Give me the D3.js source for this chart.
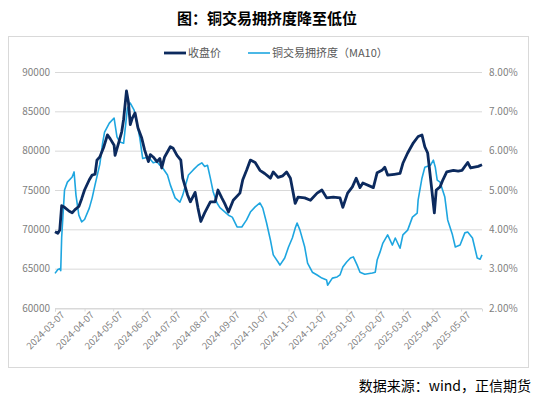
<!DOCTYPE html>
<html>
<head>
<meta charset="utf-8">
<script src="https://cdn.jsdelivr.net/npm/d3@7"></script>
<style>
  body { margin: 0; background: #fff; }
  svg { display: block; }
</style>
</head>
<body>
<svg id="chart" width="534" height="397"></svg>
<script>
// 收盘价 (dark line)
const priceDates = ['2024-03-07','2024-03-10','2024-03-12','2024-03-14','2024-03-17','2024-03-22','2024-03-25','2024-03-28','2024-04-01','2024-04-04','2024-04-07','2024-04-12','2024-04-15','2024-04-18','2024-04-20','2024-04-23','2024-04-27','2024-05-01','2024-05-04','2024-05-08','2024-05-09','2024-05-13','2024-05-16','2024-05-18','2024-05-21','2024-05-23','2024-05-25','2024-05-27','2024-05-30','2024-06-02','2024-06-06','2024-06-09','2024-06-13','2024-06-15','2024-06-18','2024-06-22','2024-06-25','2024-06-27','2024-06-30','2024-07-06','2024-07-09','2024-07-13','2024-07-17','2024-07-19','2024-07-24','2024-07-27','2024-08-01','2024-08-04','2024-08-07','2024-08-11','2024-08-17','2024-08-22','2024-08-25','2024-08-29','2024-09-01','2024-09-05','2024-09-10','2024-09-17','2024-09-20','2024-09-24','2024-09-28','2024-10-03','2024-10-08','2024-10-13','2024-10-19','2024-10-22','2024-10-27','2024-11-01','2024-11-05','2024-11-09','2024-11-14','2024-11-17','2024-11-24','2024-11-30','2024-12-07','2024-12-12','2024-12-17','2024-12-24','2024-12-31','2025-01-03','2025-01-08','2025-01-13','2025-01-17','2025-01-21','2025-01-24','2025-02-04','2025-02-08','2025-02-13','2025-02-16','2025-02-19','2025-02-26','2025-03-04','2025-03-07','2025-03-12','2025-03-18','2025-03-23','2025-03-27','2025-03-30','2025-04-02','2025-04-06','2025-04-09','2025-04-11','2025-04-15','2025-04-18','2025-04-22','2025-04-29','2025-05-04','2025-05-08','2025-05-14','2025-05-17','2025-05-21','2025-05-25','2025-05-29']
const priceValues = [69700,69500,69900,73000,72800,72300,72100,72500,72900,73900,75000,76300,76900,77000,78800,79200,80400,82000,81500,80700,79400,81100,82400,84000,87600,86200,83300,84100,84800,82900,81600,80100,78600,79500,79200,78600,79000,77800,79200,80500,80300,79400,78800,76500,74400,73500,74700,72700,71000,72100,73500,73500,75000,74000,73300,72200,73700,74600,76300,77500,78800,78500,77500,77100,76500,77300,76600,76800,77300,76500,73300,74100,74000,73700,74600,75000,74000,74100,74000,72800,74600,75400,76500,75300,75900,75300,77200,77500,77900,76900,77000,77100,78400,79700,81000,81800,82000,80500,79700,75400,72100,75000,75400,76300,77300,77500,77400,77500,78500,77800,77900,78000,78200]

// 铜交易拥挤度（MA10）(light line, %)
const ratioDates = ['2024-03-07','2024-03-10','2024-03-12','2024-03-13','2024-03-14','2024-03-17','2024-03-20','2024-03-25','2024-03-27','2024-03-29','2024-04-01','2024-04-04','2024-04-07','2024-04-12','2024-04-15','2024-04-18','2024-04-23','2024-04-26','2024-04-28','2024-05-03','2024-05-08','2024-05-11','2024-05-14','2024-05-18','2024-05-22','2024-05-25','2024-05-29','2024-06-01','2024-06-04','2024-06-07','2024-06-13','2024-06-18','2024-06-22','2024-06-25','2024-06-28','2024-07-03','2024-07-06','2024-07-11','2024-07-16','2024-07-19','2024-07-25','2024-07-30','2024-08-04','2024-08-08','2024-08-11','2024-08-14','2024-08-17','2024-08-20','2024-08-24','2024-08-27','2024-08-30','2024-09-05','2024-09-09','2024-09-14','2024-09-19','2024-09-24','2024-09-28','2024-10-03','2024-10-08','2024-10-11','2024-10-15','2024-10-19','2024-10-22','2024-10-27','2024-10-29','2024-11-03','2024-11-07','2024-11-11','2024-11-14','2024-11-16','2024-11-19','2024-11-24','2024-11-27','2024-12-02','2024-12-07','2024-12-12','2024-12-17','2024-12-18','2024-12-23','2024-12-28','2024-12-31','2025-01-03','2025-01-07','2025-01-11','2025-01-14','2025-01-18','2025-01-21','2025-01-26','2025-02-03','2025-02-06','2025-02-08','2025-02-11','2025-02-14','2025-02-19','2025-02-24','2025-02-27','2025-03-04','2025-03-07','2025-03-12','2025-03-17','2025-03-22','2025-03-23','2025-03-27','2025-03-30','2025-04-05','2025-04-08','2025-04-10','2025-04-12','2025-04-15','2025-04-20','2025-04-23','2025-04-28','2025-05-01','2025-05-06','2025-05-11','2025-05-14','2025-05-19','2025-05-24','2025-05-27','2025-05-29']
const ratioValues = [2.88,2.98,3.00,2.95,3.80,5.00,5.20,5.33,5.46,4.87,4.36,4.19,4.25,4.54,4.80,5.13,5.65,6.20,6.47,6.70,6.83,6.35,6.22,6.19,7.08,7.21,7.03,6.70,6.32,5.80,5.84,5.69,5.72,5.63,5.56,5.38,5.13,4.80,4.69,4.87,5.38,5.51,5.63,5.69,5.60,5.63,5.30,4.95,4.67,4.55,4.49,4.36,4.31,4.06,4.06,4.24,4.44,4.57,4.67,4.54,4.16,3.73,3.35,3.17,3.09,3.27,3.55,3.78,4.03,4.16,3.98,3.55,3.14,2.91,2.84,2.76,2.71,2.58,2.76,2.79,2.84,3.04,3.17,3.27,3.30,3.09,2.91,2.86,2.89,2.91,3.22,3.42,3.65,3.86,3.60,3.78,3.52,3.86,3.98,4.31,4.41,4.75,5.30,5.58,5.63,5.76,5.58,5.25,5.20,4.82,4.24,3.86,3.55,3.60,3.91,3.93,3.78,3.27,3.24,3.35]

const xTickLabels = ['2024-03-07','2024-04-07','2024-05-07','2024-06-07','2024-07-07','2024-08-07','2024-09-07','2024-10-07','2024-11-07','2024-12-07','2025-01-07','2025-02-07','2025-03-07','2025-04-07','2025-05-07']
const leftTicks = [60000,65000,70000,75000,80000,85000,90000]
const rightTicks = [2,3,4,5,6,7,8]

const seriesNames = ['收盘价','铜交易拥挤度（MA10）']
const colors = { price: '#0c2a5e', ratio: '#1ea6e0' }

let parse = d3.timeParse('%Y-%m-%d')
let price = priceDates.map((d,i) => ({ date: parse(d), value: priceValues[i] }))
let ratio = ratioDates.map((d,i) => ({ date: parse(d), value: ratioValues[i] }))

let svg = d3.select('#chart')
let font = '"Noto Sans CJK SC", "Noto Sans", sans-serif'

// frame & title
svg.append('rect')
  .attr('x', 8.5).attr('y', 36.5)
  .attr('width', 520).attr('height', 331)
  .attr('fill', 'none')
  .attr('stroke', '#d9d9d9')

svg.append('text')
  .attr('x', 267).attr('y', 24)
  .attr('text-anchor', 'middle')
  .style('font-family', font)
  .style('font-size', '15px')
  .style('font-weight', 'bold')
  .attr('fill', '#000')
  .text('图：铜交易拥挤度降至低位')

svg.append('text')
  .attr('x', 531).attr('y', 391)
  .attr('text-anchor', 'end')
  .style('font-family', font)
  .style('font-size', '14px')
  .attr('fill', '#000')
  .text('数据来源：wind，正信期货')

let x = d3.scaleTime()
  .domain([parse('2024-03-07'), parse('2025-05-29')])
  .range([55, 482])

let yL = d3.scaleLinear().domain([60000, 90000]).range([308, 72])
let yR = d3.scaleLinear().domain([2, 8]).range([308, 72])

// gridlines
svg.append('g')
  .selectAll('line')
  .data(leftTicks)
  .enter().append('line')
    .attr('x1', 55).attr('x2', 482)
    .attr('y1', d => yL(d) + 0.5).attr('y2', d => yL(d) + 0.5)
    .attr('stroke', '#d9d9d9')
    .attr('stroke-width', 1)

// left axis
let left = svg.append('g')
  .attr('transform', 'translate(50,0)')
  .call(d3.axisLeft(yL).tickValues(leftTicks).tickSize(0).tickPadding(0).tickFormat(d3.format('d')))
left.select('.domain').remove()
left.selectAll('text')
  .style('font-family', font)
  .style('font-size', '10px')
  .attr('fill', '#7f7f7f')

// right axis
let right = svg.append('g')
  .attr('transform', 'translate(489,0)')
  .call(d3.axisRight(yR).tickValues(rightTicks).tickSize(0).tickPadding(0).tickFormat(d => d.toFixed(2) + '%'))
right.select('.domain').remove()
right.selectAll('text')
  .style('font-family', font)
  .style('font-size', '10px')
  .attr('fill', '#7f7f7f')

// bottom axis
let bottom = svg.append('g')
  .attr('transform', 'translate(0,308.5)')
  .call(d3.axisBottom(x).tickValues(xTickLabels.map(parse)).tickSize(3).tickFormat(d3.timeFormat('%Y-%m-%d')))
bottom.select('.domain').attr('stroke', '#d9d9d9')
bottom.selectAll('.tick line').attr('stroke', '#d9d9d9')
bottom.selectAll('text')
  .style('font-family', font)
  .style('font-size', '9.5px')
  .attr('fill', '#7f7f7f')
  .attr('text-anchor', 'end')
  .attr('dx', '0.2em')
  .attr('dy', '0.6em')
  .attr('transform', 'rotate(-45)')

// lines
let lineR = d3.line().x(d => x(d.date)).y(d => yR(d.value))
let lineL = d3.line().x(d => x(d.date)).y(d => yL(d.value))

svg.append('path')
  .datum(ratio)
  .attr('d', lineR)
  .attr('fill', 'none')
  .attr('stroke', colors.ratio)
  .attr('stroke-width', 1.6)
  .attr('stroke-linejoin', 'round')

svg.append('path')
  .datum(price)
  .attr('d', lineL)
  .attr('fill', 'none')
  .attr('stroke', colors.price)
  .attr('stroke-width', 2.8)
  .attr('stroke-linejoin', 'round')

// legend
let legend = svg.append('g').attr('transform', 'translate(164,53)')
let items = [
  { name: seriesNames[0], color: colors.price, w: 2.8, dx: 0 },
  { name: seriesNames[1], color: colors.ratio, w: 1.6, dx: 84 }
]
let item = legend.selectAll('g')
  .data(items)
  .enter().append('g')
    .attr('transform', d => `translate(${d.dx},0)`)
item.append('line')
  .attr('x1', 0).attr('x2', 22)
  .attr('stroke', d => d.color)
  .attr('stroke-width', d => d.w)
item.append('text')
  .attr('x', 24).attr('y', 4)
  .style('font-family', font)
  .style('font-size', '11px')
  .attr('fill', '#595959')
  .text(d => d.name)
</script>
</body>
</html>
